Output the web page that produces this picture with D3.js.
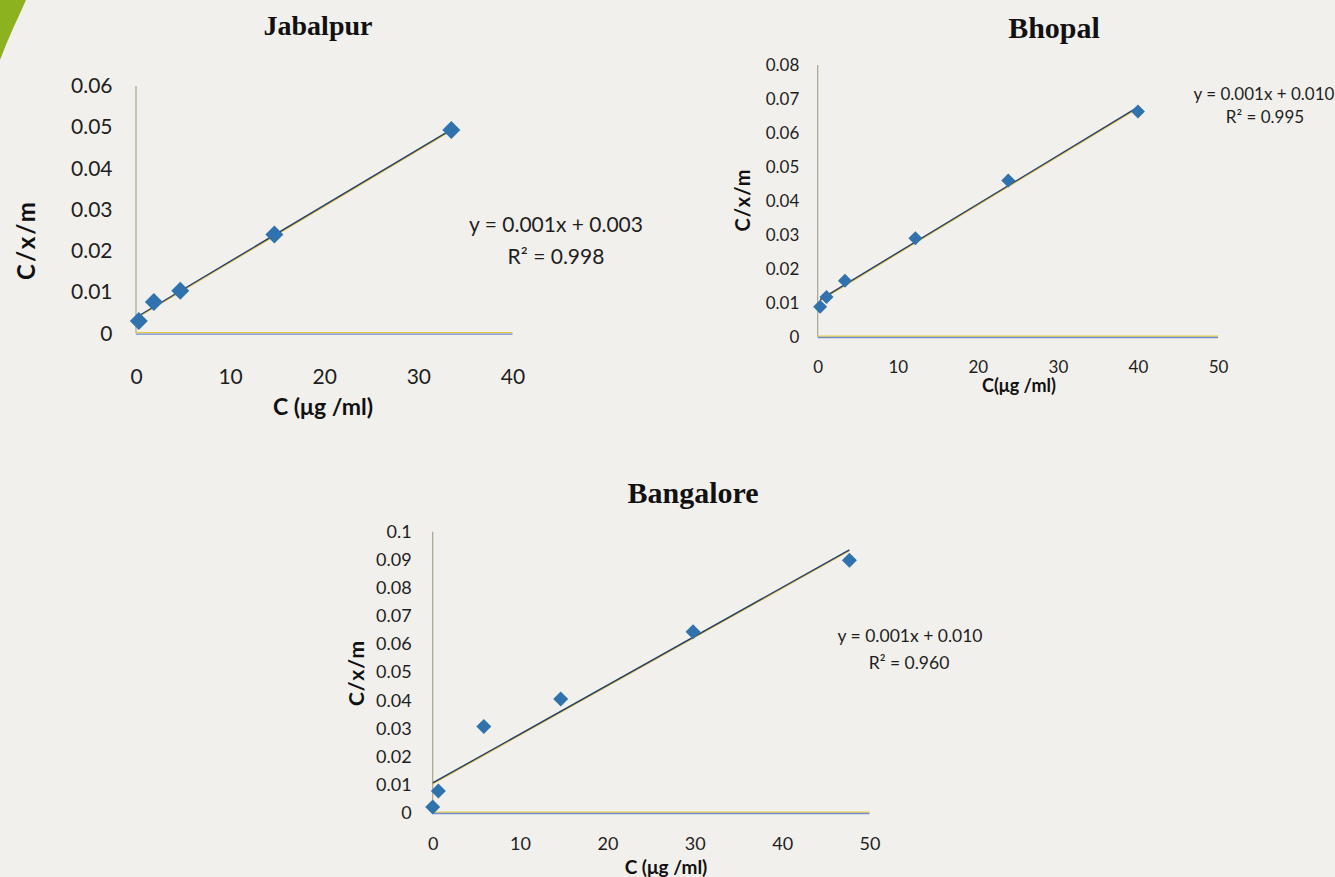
<!DOCTYPE html>
<html>
<head>
<meta charset="utf-8">
<script src="https://cdn.jsdelivr.net/npm/d3@7/dist/d3.min.js"></script>
<style>
  html, body { margin: 0; padding: 0; background: #f2f0ec; }
  svg { display: block; }
</style>
</head>
<body>
<svg id="chart" width="1335" height="877"></svg>
<script>
// ---------- DATA ----------
const panelTitles = ["Jabalpur", "Bhopal", "Bangalore"];
const xTitles = ["C (μg /ml)", "C(μg /ml)", "C (μg /ml)"];
const yTitle = "C/x/m";

const jabalpurC   = [0.3, 1.9, 4.7, 14.7, 33.5];
const jabalpurCXM = [0.003, 0.0076, 0.0103, 0.024, 0.0493];
const jabalpurXTicks = [0, 10, 20, 30, 40];
const jabalpurYTicks = [0, 0.01, 0.02, 0.03, 0.04, 0.05, 0.06];

const bhopalC   = [0.3, 1.1, 3.4, 12.2, 23.8, 40.0];
const bhopalCXM = [0.0088, 0.0117, 0.0165, 0.029, 0.046, 0.0663];
const bhopalXTicks = [0, 10, 20, 30, 40, 50];
const bhopalYTicks = [0, 0.01, 0.02, 0.03, 0.04, 0.05, 0.06, 0.07, 0.08];

const bangaloreC   = [0, 0.65, 5.85, 14.65, 29.8, 47.7];
const bangaloreCXM = [0.002, 0.0077, 0.0307, 0.0405, 0.0644, 0.0898];
const bangaloreXTicks = [0, 10, 20, 30, 40, 50];
const bangaloreYTicks = [0, 0.01, 0.02, 0.03, 0.04, 0.05, 0.06, 0.07, 0.08, 0.09, 0.1];

const trendEquations = ["y = 0.001x + 0.003", "y = 0.001x + 0.010", "y = 0.001x + 0.010"];
const trendR2 = ["R² = 0.998", "R² = 0.995", "R² = 0.960"];

// ---------- LAYOUT ----------
const layouts = [
  { x0: 136, x1: 512.5, y0: 333.3, y1: 86, fs: 21, xPad: 36, yPad: 23.5, r: 9,
    title: [318, 35, 28], yT: [25, 240, 24, 2], xT: [323, 415, 23],
    eq: [556, 223, 21], r2: [556, 255] },
  { x0: 817.7, x1: 1218, y0: 336.7, y1: 65, fs: 17, xPad: 24.5, yPad: 18.4, r: 7,
    title: [1054, 38, 30], yT: [742, 200, 20, 1], xT: [1019, 392, 18],
    eq: [1264, 93, 17], r2: [1265, 116] },
  { x0: 432.7, x1: 869.5, y0: 812.7, y1: 531.7, fs: 18, xPad: 25, yPad: 21, r: 7.5,
    title: [693, 503, 30], yT: [355, 673, 21, 1], xT: [666, 874, 19],
    eq: [910, 635, 17.5], r2: [909, 662] }
];

const panels = [
  { c: jabalpurC, v: jabalpurCXM, xt: jabalpurXTicks, yt: jabalpurYTicks },
  { c: bhopalC, v: bhopalCXM, xt: bhopalXTicks, yt: bhopalYTicks },
  { c: bangaloreC, v: bangaloreCXM, xt: bangaloreXTicks, yt: bangaloreYTicks }
];

const svg = d3.select("#chart");
const FONT = "Lato, 'Open Sans', 'Noto Sans', sans-serif";

// decorative green swoosh at the page corner
svg.append("path")
  .attr("d", "M0,0 L26,0 C18,18 8,38 0,60 Z")
  .attr("fill", "#8db21f");

const fmt = d => d === 0 ? "0" : String(+d.toFixed(2));

panels.forEach((p, i) => {
  const L = layouts[i];
  const x = d3.scaleLinear().domain([p.xt[0], p.xt[p.xt.length - 1]]).range([L.x0, L.x1]);
  const y = d3.scaleLinear().domain([p.yt[0], p.yt[p.yt.length - 1]]).range([L.y0, L.y1]);
  const g = svg.append("g");

  // Y axis labels
  const ya = g.append("g").attr("transform", `translate(${L.x0},0)`)
    .call(d3.axisLeft(y).tickValues(p.yt).tickSize(0).tickPadding(L.yPad).tickFormat(fmt));
  ya.select(".domain").remove();
  ya.selectAll("text").attr("font-family", FONT).attr("font-size", L.fs).attr("fill", "#1e1e1e");

  // X axis labels
  const xa = g.append("g").attr("transform", `translate(0,${L.y0})`)
    .call(d3.axisBottom(x).tickValues(p.xt).tickSize(0).tickPadding(L.xPad).tickFormat(d3.format("d")));
  xa.select(".domain").remove();
  xa.selectAll("text").attr("font-family", FONT).attr("font-size", L.fs).attr("fill", "#1e1e1e");

  // axis lines (scan-like double tone)
  g.append("line").attr("x1", L.x0).attr("x2", L.x0).attr("y1", L.y1).attr("y2", L.y0)
    .attr("stroke", "#a7a392").attr("stroke-width", 1.2);
  g.append("line").attr("x1", L.x0).attr("x2", L.x1).attr("y1", L.y0 - 0.6).attr("y2", L.y0 - 0.6)
    .attr("stroke", "#e9c93c").attr("stroke-width", 1.2);
  g.append("line").attr("x1", L.x0).attr("x2", L.x1).attr("y1", L.y0 + 0.8).attr("y2", L.y0 + 0.8)
    .attr("stroke", "#6f8fd0").attr("stroke-width", 1.3);

  // linear trendline (least squares)
  const n = p.c.length;
  const mx = d3.mean(p.c), my = d3.mean(p.v);
  let sxy = 0, sxx = 0;
  for (let k = 0; k < n; k++) { sxy += (p.c[k] - mx) * (p.v[k] - my); sxx += (p.c[k] - mx) ** 2; }
  const slope = sxy / sxx, icpt = my - slope * mx;
  const xa0 = d3.min(p.c), xa1 = d3.max(p.c);
  g.append("line")
    .attr("x1", x(xa0)).attr("y1", y(icpt + slope * xa0) + 1.1)
    .attr("x2", x(xa1)).attr("y2", y(icpt + slope * xa1) + 1.1)
    .attr("stroke", "#e8c33a").attr("stroke-width", 1.1);
  g.append("line")
    .attr("x1", x(xa0)).attr("y1", y(icpt + slope * xa0))
    .attr("x2", x(xa1)).attr("y2", y(icpt + slope * xa1))
    .attr("stroke", "#22406b").attr("stroke-width", 1.4);

  // diamonds
  g.append("g").selectAll("path").data(p.c.map((c, k) => [c, p.v[k]])).join("path")
    .attr("d", d => {
      const cx = x(d[0]), cy = y(d[1]), r = L.r;
      return `M${cx},${cy - r}L${cx + r},${cy}L${cx},${cy + r}L${cx - r},${cy}Z`;
    })
    .attr("fill", "#2f72ae");

  // titles
  g.append("text").attr("x", L.title[0]).attr("y", L.title[1]).attr("text-anchor", "middle")
    .attr("font-family", "'Liberation Serif', 'Times New Roman', serif").attr("font-weight", "bold")
    .attr("font-size", L.title[2]).attr("fill", "#111").text(panelTitles[i]);

  g.append("text").attr("transform", `translate(${L.yT[0]},${L.yT[1]}) rotate(-90)`)
    .attr("text-anchor", "middle").attr("dominant-baseline", "central")
    .attr("font-family", FONT).attr("font-weight", "bold").attr("font-size", L.yT[2])
    .attr("letter-spacing", L.yT[3]).attr("fill", "#111").text(yTitle);

  g.append("text").attr("x", L.xT[0]).attr("y", L.xT[1]).attr("text-anchor", "middle")
    .attr("font-family", FONT).attr("font-weight", "bold").attr("font-size", L.xT[2])
    .attr("fill", "#111").text(xTitles[i]);

  // trendline labels
  g.append("text").attr("x", L.eq[0]).attr("y", L.eq[1]).attr("text-anchor", "middle")
    .attr("dominant-baseline", "central").attr("font-family", FONT).attr("font-size", L.eq[2])
    .attr("fill", "#1e1e1e").text(trendEquations[i]);
  g.append("text").attr("x", L.r2[0]).attr("y", L.r2[1]).attr("text-anchor", "middle")
    .attr("dominant-baseline", "central").attr("font-family", FONT).attr("font-size", L.eq[2])
    .attr("fill", "#1e1e1e").text(trendR2[i]);
});
</script>
</body>
</html>
